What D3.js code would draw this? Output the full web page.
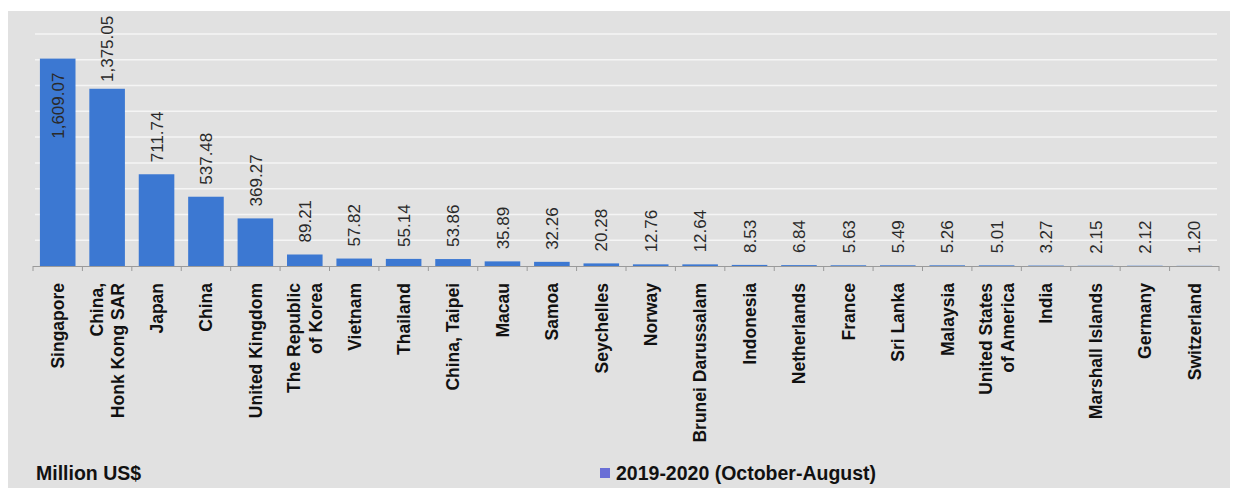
<!DOCTYPE html>
<meta charset="utf-8">
<script src="https://d3js.org/d3.v7.min.js"></script>
<style>
  body { margin: 0; background: #fff; font-family: 'Liberation Sans', Arial, sans-serif; }
  .val { font-size: 17px; fill: #2a2a2a; }
  .cat { font-size: 17.5px; font-weight: bold; fill: #111; }
</style>
<div id="chart"></div>
<script>

var countries = ["Singapore", "China,\nHonk Kong SAR", "Japan", "China", "United Kingdom",
  "The Republic\nof Korea", "Vietnam", "Thailand", "China, Taipei", "Macau", "Samoa",
  "Seychelles", "Norway", "Brunei Darussalam", "Indonesia", "Netherlands", "France",
  "Sri Lanka", "Malaysia", "United States\nof America", "India", "Marshall Islands",
  "Germany", "Switzerland"];
var values = [1609.07, 1375.05, 711.74, 537.48, 369.27, 89.21, 57.82, 55.14, 53.86, 35.89,
  32.26, 20.28, 12.76, 12.64, 8.53, 6.84, 5.63, 5.49, 5.26, 5.01, 3.27, 2.15, 2.12, 1.20];
var gridTicks = [200, 400, 600, 800, 1000, 1200, 1400, 1600, 1800];
var seriesName = "2019-2020 (October-August)";
var unitLabel = "Million US$";

var W = 1236, H = 488;
var svg = d3.select("#chart").append("svg")
  .attr("width", W).attr("height", H);

// grey panel
svg.append("rect")
  .attr("x", 8).attr("y", 11)
  .attr("width", 1222).attr("height", H - 11)
  .attr("fill", "#e1e1e1");

var x = d3.scaleBand()
  .domain(countries)
  .range([33, 1219])
  .padding(0);

var y = d3.scaleLinear()
  .domain([0, 1800])
  .range([266, 34]);

// gridlines
svg.append("g").selectAll("line")
  .data(gridTicks)
  .enter().append("line")
    .attr("x1", 35).attr("x2", 1217)
    .attr("y1", function(d) { return y(d); })
    .attr("y2", function(d) { return y(d); })
    .attr("stroke", "#f5f5f5")
    .attr("stroke-width", 1.5);

var barW = x.bandwidth() * 0.72;

svg.append("g").selectAll("rect")
  .data(values)
  .enter().append("rect")
    .attr("x", function(d, i) { return x(countries[i]) + (x.bandwidth() - barW) / 2; })
    .attr("y", function(d) { return y(d); })
    .attr("width", barW)
    .attr("height", function(d) { return y(0) - y(d); })
    .attr("fill", "#3c78d2");

// x axis line + ticks at band edges
svg.append("line")
  .attr("x1", 33).attr("x2", 1219)
  .attr("y1", y(0) + 0.5).attr("y2", y(0) + 0.5)
  .attr("stroke", "#9a9a9a").attr("stroke-width", 1.2);

var edges = countries.map(function(c) { return x(c); }).concat([1219]);
svg.append("g").selectAll("line")
  .data(edges)
  .enter().append("line")
    .attr("x1", function(d) { return d; }).attr("x2", function(d) { return d; })
    .attr("y1", y(0)).attr("y2", y(0) + 5)
    .attr("stroke", "#9a9a9a");

// value labels
var fmt = d3.format(",.2f");
svg.append("g").selectAll("text")
  .data(values)
  .enter().append("text")
    .attr("class", "val")
    .attr("transform", function(d, i) {
      var cx = x(countries[i]) + x.bandwidth() / 2;
      var top = y(d);
      var yy = i === 0 ? top + 14 : Math.max(top - 12, 82);
      return "translate(" + cx + "," + yy + ") rotate(-90)";
    })
    .attr("dy", "0.36em")
    .attr("text-anchor", function(d, i) { return i === 0 ? "end" : "start"; })
    .text(function(d) { return fmt(d); });

// category labels
var cat = svg.append("g").selectAll("g")
  .data(countries)
  .enter().append("g")
    .attr("transform", function(d) {
      return "translate(" + (x(d) + x.bandwidth() / 2) + "," + 283 + ") rotate(-90)";
    });

cat.each(function(d) {
  var lines = d.split("\n");
  var t = d3.select(this).append("text")
    .attr("class", "cat")
    .attr("text-anchor", "end");
  lines.forEach(function(line, j) {
    t.append("tspan")
      .attr("x", 0)
      .attr("y", 0)
      .attr("dy", (0.36 + (j - (lines.length - 1) / 2) * 1.25) + "em")
      .text(line);
  });
});

// unit label
svg.append("text")
  .attr("x", 36).attr("y", 480)
  .style("font-size", "19.5px").style("font-weight", "bold").style("fill", "#111")
  .text(unitLabel);

// legend
svg.append("rect")
  .attr("x", 600).attr("y", 468)
  .attr("width", 10).attr("height", 10)
  .attr("fill", "#6a6fd6");

svg.append("text")
  .attr("x", 616).attr("y", 480)
  .style("font-size", "19.5px").style("font-weight", "bold").style("fill", "#111")
  .text(seriesName);

</script>
